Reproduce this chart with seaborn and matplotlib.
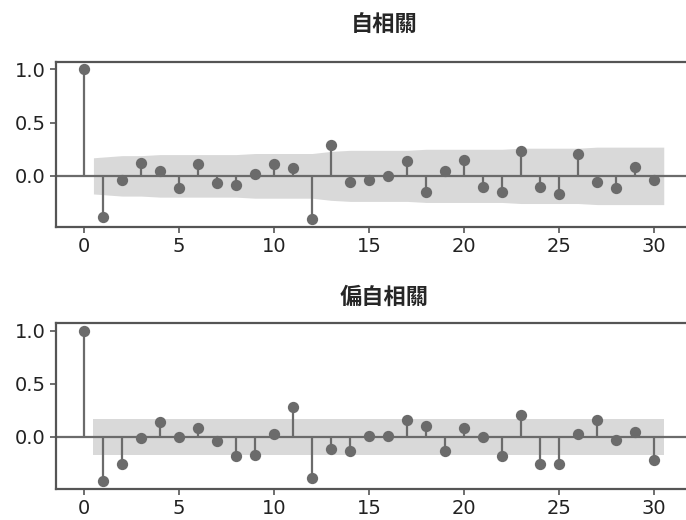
import numpy as np
import pandas as pd
import matplotlib
matplotlib.use("Agg")
import matplotlib.pyplot as plt
import seaborn as sns

# data
lags = list(range(31))
acf_vals = [1.00, -0.39, -0.04, 0.12, 0.05, -0.11, 0.11, -0.07, -0.09, 0.02,
            0.11, 0.07, -0.41, 0.29, -0.06, -0.04, 0.00, 0.14, -0.15, 0.05,
            0.15, -0.10, -0.15, 0.23, -0.10, -0.17, 0.21, -0.06, -0.11, 0.08,
            -0.04]
pacf_vals = [1.00, -0.42, -0.26, -0.01, 0.14, 0.00, 0.08, -0.04, -0.18, -0.17,
             0.03, 0.28, -0.39, -0.11, -0.13, 0.01, 0.01, 0.16, 0.10, -0.13,
             0.08, 0.00, -0.18, 0.21, -0.26, -0.26, 0.03, 0.16, -0.03, 0.05,
             -0.22]
# half width of the confidence band for lags 1..30
acf_band = [0.17, 0.19, 0.19, 0.20, 0.20, 0.20, 0.20, 0.20, 0.21, 0.21,
            0.21, 0.21, 0.23, 0.24, 0.24, 0.24, 0.24, 0.25, 0.25, 0.25,
            0.25, 0.25, 0.26, 0.26, 0.26, 0.26, 0.27, 0.27, 0.27, 0.27]
pacf_band = [0.17] * 30
titles = ["自相關", "偏自相關"]

sns.set_style("white")
plt.rcParams["font.family"] = ["DejaVu Sans", "Noto Sans CJK TC"]

STEM = "#6b6b6b"
BAND = "#d9d9d9"
SPINE = "#555555"

fig = plt.figure(figsize=(6.86, 5.2), dpi=100)
ax1 = fig.add_axes([0.0816, 0.5635, 0.958, 0.3173])
ax2 = fig.add_axes([0.0816, 0.0596, 0.958, 0.3192])


def draw(ax, vals, band, title, pad):
    df = pd.DataFrame({"lag": lags, "value": vals})
    bx = np.array(lags[1:], dtype=float)
    bx[0] -= 0.5
    bx[-1] += 0.5
    bw = np.array(band)
    ax.fill_between(bx, -bw, bw, color=BAND, linewidth=0, zorder=1)
    ax.axhline(0, color=STEM, linewidth=1.6, zorder=2)
    ax.vlines(df["lag"], 0, df["value"], color=STEM, linewidth=1.6, zorder=2)
    sns.scatterplot(data=df, x="lag", y="value", ax=ax, color=STEM, s=66,
                    linewidth=0, zorder=3)
    ax.set_xlim(-1.47, 33.1)
    lo = min(vals)
    rng = 1.0 - lo
    ax.set_ylim(lo - 0.05 * rng, 1.0 + 0.05 * rng)
    ax.set_xticks([0, 5, 10, 15, 20, 25, 30])
    ax.set_yticks([0.0, 0.5, 1.0])
    ax.set_yticklabels(["0.0", "0.5", "1.0"])
    ax.set_xlabel("")
    ax.set_ylabel("")
    ax.set_title(title, fontsize=16, fontweight="bold",
                 family=["Noto Sans CJK TC"], pad=pad)
    ax.tick_params(axis="both", labelsize=14, colors="#222222",
                   length=4, width=1.2, direction="out",
                   bottom=True, left=True)
    ax.tick_params(axis="both", color=SPINE)
    for sp in ax.spines.values():
        sp.set_color(SPINE)
        sp.set_linewidth(1.6)


draw(ax1, acf_vals, acf_band, titles[0], 22)
draw(ax2, pacf_vals, pacf_band, titles[1], 14)

fig.savefig("out.png", dpi=100)
